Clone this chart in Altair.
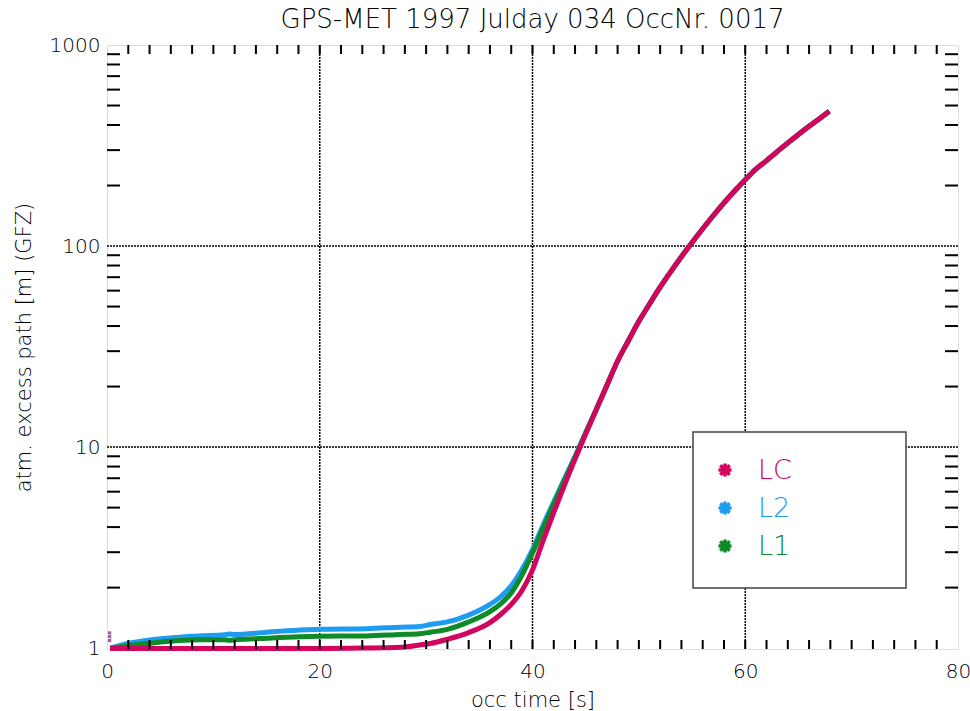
import altair as alt
import pandas as pd

# ---- data ----
lc_t = [0.3, 4, 8, 12, 16, 20, 24, 27.6, 29.4, 30.4, 32, 34, 36, 37, 38, 39, 40, 41, 42, 43, 44, 44.4,
        45, 46, 47, 48, 49, 50, 51, 52, 53, 54, 55, 56, 57, 58, 59, 60, 61, 62, 63, 64, 65, 66, 67, 67.9]
lc_v = [0.995, 0.995, 0.995, 0.995, 0.995, 0.995, 1.0, 1.01, 1.037, 1.055, 1.107, 1.195, 1.34, 1.47, 1.65, 1.93, 2.45,
        3.43, 4.73, 6.46, 8.71, 9.77, 11.6, 15.4, 20.3, 26.8, 33.7, 42.2, 51.5, 62.4, 74.6, 88.5, 104.2, 121.9,
        141.9, 164.1, 187.9, 213.8, 241.5, 266, 295, 326, 359, 394, 431, 468]

l2_t = [0.3, 2.2, 5.6, 8.7, 11.0, 11.5, 12, 15, 20, 24.4, 27.6, 29.4, 30.4, 32, 34, 36, 37, 38, 39, 40, 41, 42,
        43, 44, 45, 46, 47, 48, 49, 50, 51, 52, 53, 54, 55, 56, 57, 58, 59, 60, 61, 62, 63, 64, 65, 66, 67, 67.9]
l2_v = [1.0, 1.06, 1.12, 1.15, 1.165, 1.175, 1.17, 1.20, 1.24, 1.25, 1.27, 1.28, 1.31, 1.35, 1.46, 1.65, 1.80, 2.04,
        2.45, 3.09, 4.1, 5.35, 6.95, 9.0, 11.8, 15.4, 20.3, 26.8, 33.7, 42.2, 51.5, 62.4, 74.6, 88.5, 104.2, 121.9,
        141.9, 164.1, 187.9, 213.8, 241.5, 266, 295, 326, 359, 394, 431, 468]

l1_t = [0.3, 2.2, 5.6, 8.7, 11.0, 11.5, 12, 15, 20, 24.4, 27.6, 29.4, 30.4, 32, 34, 36, 37, 38, 39, 40, 41, 42,
        43, 44, 45, 46, 47, 48, 49, 50, 51, 52, 53, 54, 55, 56, 57, 58, 59, 60, 61, 62, 63, 64, 65, 66, 67, 67.9]
l1_v = [1.0, 1.03, 1.08, 1.10, 1.10, 1.095, 1.10, 1.12, 1.145, 1.15, 1.17, 1.18, 1.20, 1.24, 1.35, 1.52, 1.66, 1.88,
        2.3, 2.97, 3.95, 5.2, 6.8, 8.9, 11.75, 15.4, 20.3, 26.8, 33.7, 42.2, 51.5, 62.4, 74.6, 88.5, 104.2, 121.9,
        141.9, 164.1, 187.9, 213.8, 241.5, 266, 295, 326, 359, 394, 431, 468]

stray_t = [0.25, 0.25, 0.25]
stray_v = [1.09, 1.14, 1.19]

series_names = ["LC", "L2", "L1"]
series_colors = ["#D2045E", "#1E9CF0", "#0E8A26"]

x_major = [0, 20, 40, 60, 80]
y_major = [1, 10, 100, 1000]
x_grid = [20, 40, 60]
y_grid = [10, 100]
x_minor = [2, 4, 6, 8, 10, 12, 14, 16, 18, 20, 22, 24, 26, 28, 30, 32, 34, 36, 38, 40,
           42, 44, 46, 48, 50, 52, 54, 56, 58, 60, 62, 64, 66, 68, 70, 72, 74, 76, 78]
y_minor = [2, 3, 4, 5, 6, 7, 8, 9, 20, 30, 40, 50, 60, 70, 80, 90, 200, 300, 400, 500, 600, 700, 800, 900]

W, H = 851, 604
FONT = "DejaVu Sans"
FW = 200

df_lc = pd.DataFrame({"t": lc_t, "v": lc_v, "series": "LC"})
df_l2 = pd.DataFrame({"t": l2_t, "v": l2_v, "series": "L2"})
df_l1 = pd.DataFrame({"t": l1_t, "v": l1_v, "series": "L1"})

xscale = alt.Scale(domain=[0, 80], nice=False, zero=False)
yscale = alt.Scale(type="log", domain=[0.99, 1000], nice=False)
cscale = alt.Scale(domain=series_names, range=series_colors)

asterisk = "M-1,0L1,0M0,-1L0,1M-0.72,-0.72L0.72,0.72M-0.72,0.72L0.72,-0.72"

xenc = alt.X("t:Q", scale=xscale,
             axis=alt.Axis(values=x_major, title="occ time [s]", grid=False, ticks=False, domain=False,
                           labelFlush=False, labelBound=False,
                           labelFontSize=20, labelFont=FONT, labelFontWeight=FW, labelPadding=12,
                           labelColor="black", titleFontSize=21, titleFont=FONT, titleFontWeight=FW,
                           titlePadding=8, titleColor="black"))
yenc = alt.Y("v:Q", scale=yscale,
             axis=alt.Axis(values=y_major, format="d", title="atm. excess path [m] (GFZ)", grid=False,
                           ticks=False, domain=False, labelFlush=False, labelBound=False,
                           labelFontSize=20, labelFont=FONT, labelFontWeight=FW,
                           labelPadding=7, labelColor="black", titleFontSize=21, titleFont=FONT,
                           titleFontWeight=FW, titlePadding=15, titleColor="black"))


def line_layer(d):
    return alt.Chart(d).mark_line(strokeWidth=5, interpolate="monotone", clip=False).encode(
        x=xenc, y=yenc,
        color=alt.Color("series:N", scale=cscale, legend=None),
    )


gridx = alt.Chart(pd.DataFrame({"t": x_grid})).mark_rule(color="black", strokeWidth=1.5, strokeDash=[2, 1]).encode(
    x=alt.X("t:Q", scale=xscale), y=alt.value(0), y2=alt.value(H))
gridy = alt.Chart(pd.DataFrame({"v": y_grid})).mark_rule(color="black", strokeWidth=1.5, strokeDash=[2, 1]).encode(
    y=alt.Y("v:Q", scale=yscale), x=alt.value(0), x2=alt.value(W))

xt = pd.DataFrame({"t": x_minor})
yt = pd.DataFrame({"v": y_minor})
tick_b = alt.Chart(xt).mark_rule(color="black", strokeWidth=2).encode(
    x=alt.X("t:Q", scale=xscale), y=alt.value(H), y2=alt.value(H - 9))
tick_t = alt.Chart(xt).mark_rule(color="black", strokeWidth=2).encode(
    x=alt.X("t:Q", scale=xscale), y=alt.value(0), y2=alt.value(9))
tick_l = alt.Chart(yt).mark_rule(color="black", strokeWidth=2).encode(
    y=alt.Y("v:Q", scale=yscale), x=alt.value(0), x2=alt.value(13))
tick_r = alt.Chart(yt).mark_rule(color="black", strokeWidth=2).encode(
    y=alt.Y("v:Q", scale=yscale), x=alt.value(W), x2=alt.value(W - 13))

stray = alt.Chart(pd.DataFrame({"t": stray_t, "v": stray_v})).mark_square(
    size=10, color="#A0449A", opacity=0.9).encode(x=alt.X("t:Q", scale=xscale), y=alt.Y("v:Q", scale=yscale))

box = alt.Chart(alt.Data(values=[{"b": 1}])).mark_rect(fill="white", stroke="#444444", strokeWidth=1.5).encode(
    x=alt.value(586), x2=alt.value(799), y=alt.value(387), y2=alt.value(543))

legend_layers = []
for i, (name, col) in enumerate(zip(series_names, series_colors)):
    ypos = 425 + 38 * i
    src = alt.Data(values=[{"s": name}])
    legend_layers.append(
        alt.Chart(src).mark_point(shape=asterisk, size=170, strokeWidth=3.5, color=col, filled=False,
                                  opacity=1).encode(x=alt.value(618), y=alt.value(ypos)))
    legend_layers.append(
        alt.Chart(src).mark_text(font=FONT, fontSize=27, fontWeight=FW, color=col, align="left",
                                 baseline="middle").encode(x=alt.value(651), y=alt.value(ypos + 1), text="s:N"))

chart = alt.layer(
    gridx, gridy, line_layer(df_l2), line_layer(df_l1), line_layer(df_lc), stray,
    tick_b, tick_t, tick_l, tick_r, box, *legend_layers,
).properties(
    width=W, height=H,
    title=alt.TitleParams("GPS-MET 1997 Julday 034 OccNr. 0017", fontSize=26, font=FONT,
                          fontWeight=FW, color="black", offset=2, anchor="middle", frame="group"),
    autosize=alt.AutoSizeParams(type="none"),
    padding={"left": 107, "top": 45, "right": 12, "bottom": 62},
).configure_view(stroke="black", strokeWidth=2).configure(background="white")

chart.save("out.html", embed_options={"renderer": "svg", "actions": False})
